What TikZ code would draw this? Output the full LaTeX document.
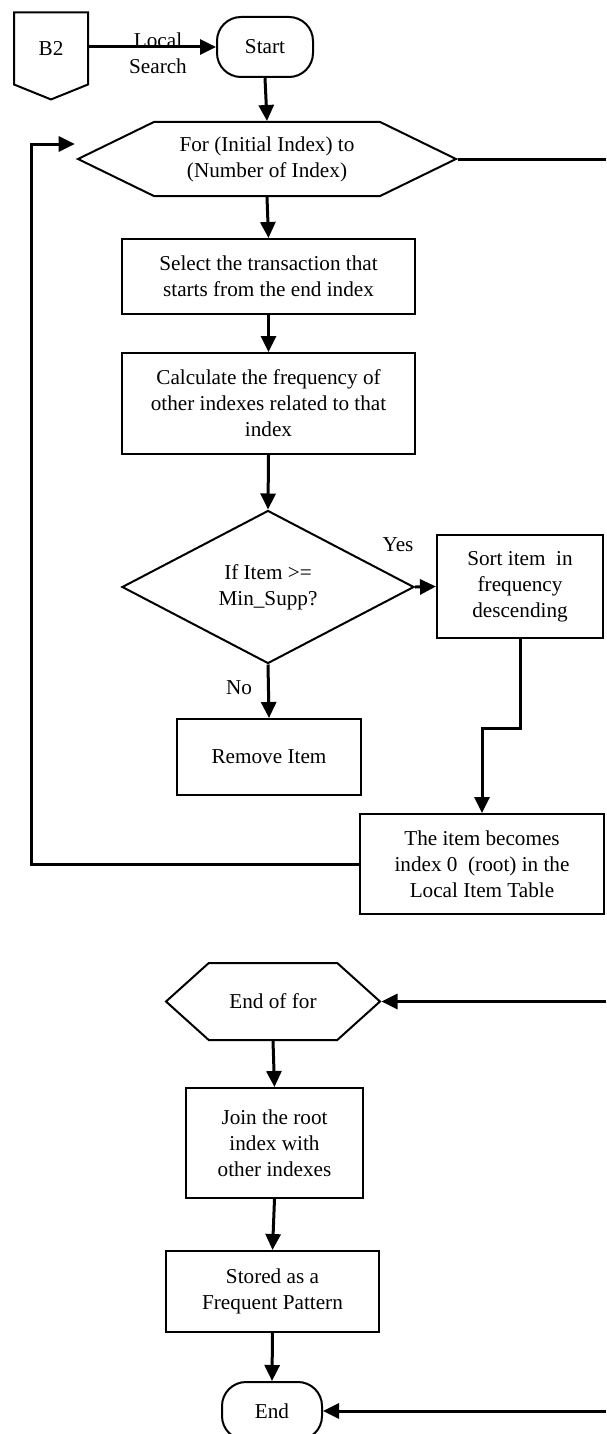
\documentclass[tikz,border=0pt]{standalone}
\usepackage{fontspec}
\setmainfont{Liberation Serif}
\usepackage{tikz}
\usetikzlibrary{calc,arrows.meta,shapes.geometric,shapes.symbols}

\tikzset{
	box/.style={draw, line width=1pt, rectangle, align=center, inner sep=1pt},
	term/.style={draw, line width=1pt, rectangle, rounded corners=12pt, align=center},
	hexa/.style={draw, line width=1pt, signal, signal to=east and west, align=center, inner sep=0pt},
	dia/.style={draw, line width=1pt, diamond, align=center, inner sep=0pt},
	arr/.style={line width=1.5pt, -{Triangle[length=8pt,width=7.5pt]}},
	wire/.style={line width=1.5pt},
}

\begin{document}
\begin{tikzpicture}[x=0.5pt, y=-0.5pt, line join=miter, font=\fontsize{10.6pt}{13pt}\selectfont]
	
	% --- 1. 画布大小 ---
	\useasboundingbox (0,0) rectangle (606,1434);
	
	% --- 2. 上半部分节点 ---
	\node[draw, line width=1pt, signal, signal to=south, signal pointer angle=136,
	      minimum width=37pt, minimum height=38.5pt, inner sep=0pt] (b2) at (51,48.5) {B2};
	\node[term, minimum width=48pt, minimum height=30pt] (start) at (265,47) {Start};
	\node[hexa, signal pointer angle=52, minimum width=189pt, minimum height=37pt] (forh) at (267,159)
	      {For (Initial Index) to\\(Number of Index)};
	\node[box, minimum width=146.5pt, minimum height=37.5pt] (sel) at (268.5,276.5)
	      {Select the transaction that\\starts from the end index};
	\node[box, minimum width=146.5pt, minimum height=50.5pt] (calc) at (268.5,403.5)
	      {Calculate the frequency of\\other indexes related to that\\index};
	\node[dia, minimum width=146pt, minimum height=76.5pt] (cond) at (268,587)
	      {If Item >=\\Min\_Supp?};
	\node[box, minimum width=83pt, minimum height=51.5pt] (sort) at (520,586.5)
	      {Sort item~ in\\frequency\\descending};
	\node[box, minimum width=92pt, minimum height=38pt] (remove) at (269,757) {Remove Item};
	\node[box, minimum width=122pt, minimum height=50pt] (table) at (482,864)
	      {The item becomes\\index 0~ (root) in the\\Local Item Table};
	
	% --- 3. 下半部分节点 ---
	\node[hexa, signal pointer angle=84, minimum width=107pt, minimum height=38.5pt] (endfor) at (273,1001.5)
	      {End of for};
	\node[box, minimum width=88.5pt, minimum height=55pt] (join) at (274.5,1143)
	      {Join the root\\index with\\other indexes};
	\node[box, minimum width=106.5pt, minimum height=40.5pt] (stored) at (272.5,1291.5)
	      {Stored as a\\Frequent Pattern};
	\node[term, minimum width=50pt, minimum height=29pt] (end) at (272,1411) {End};
	
	% --- 4. 辅助坐标 (右边缘与回路) ---
	\coordinate (edgeA) at (606,159);
	\coordinate (edgeB) at (606,1001.5);
	\coordinate (edgeC) at (606,1411);
	\coordinate (loopin) at ($(forh.west)+(-1,-15)$);
	\coordinate (loopx) at (31,0);
	\coordinate (bend) at (0,728);
	
	% --- 5. 连线 ---
	\draw[arr] (b2.east |- start.west) -- (start.west);
	\node[align=center] (lbl) at (158,53) {Local\\Search};
	\draw[arr] (start.south) -- (forh.north);
	\draw[wire] (forh.east) -- (edgeA);
	\draw[arr] (forh.south) -- (sel.north);
	\draw[arr] (sel.south) -- (calc.north);
	\draw[arr] (calc.south) -- (cond.north);
	\draw[arr] (cond.east) -- (sort.west);
	\node (yes) at (398,545) {Yes};
	\draw[arr] (cond.south) -- (remove.north);
	\node (no) at (239,688) {No};
	\draw[arr] (sort.south) -- (sort.south |- bend) -- (table.north |- bend) -- (table.north);
	\draw[arr] (table.west) -- (loopx |- table.west) -- (loopx |- loopin) -- (loopin);
	\draw[arr] (edgeB) -- (endfor.east);
	\draw[arr] (endfor.south) -- (join.north);
	\draw[arr] (join.south) -- (stored.north);
	\draw[arr] (stored.south) -- (end.north);
	\draw[arr] (edgeC) -- (end.east);
	
\end{tikzpicture}
\end{document}
